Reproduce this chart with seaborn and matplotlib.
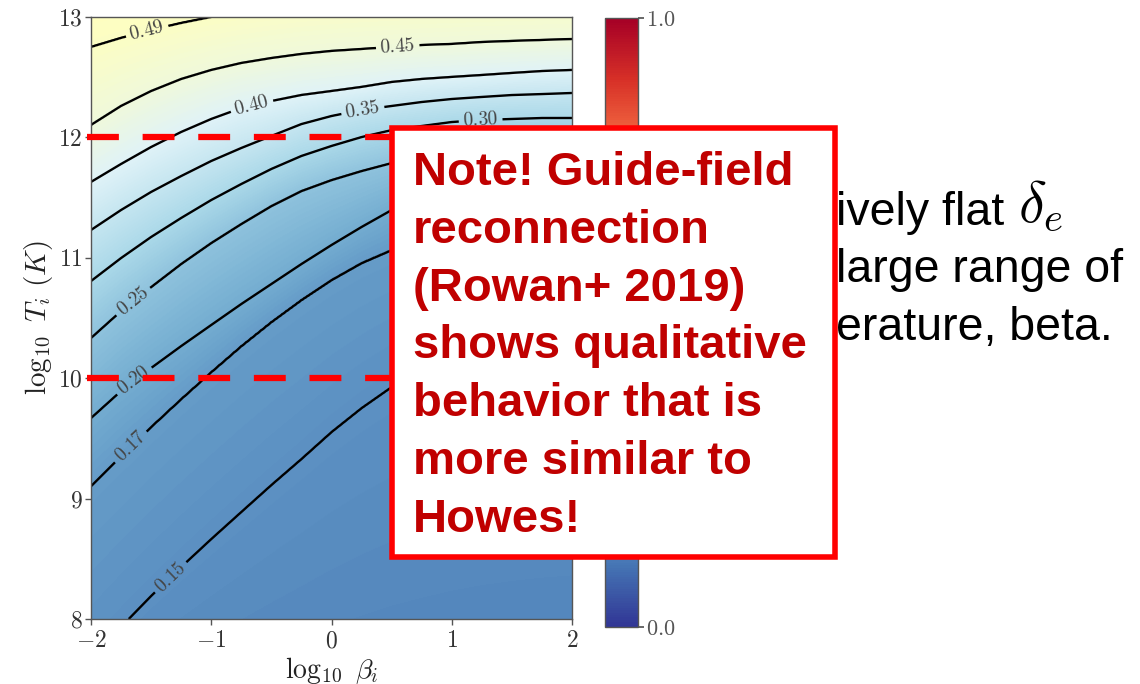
import numpy as np
import matplotlib
matplotlib.use("Agg")
import matplotlib.pyplot as plt
from matplotlib.patches import Rectangle
import seaborn as sns

# ---------------- data ----------------
# sample columns along log10 beta_i
beta_cols = [-2.0, -1.75, -1.5, -1.25, -1.0, -0.75, -0.5, -0.25, 0.0,
             0.25, 0.5, 0.75, 1.0, 1.25, 1.5, 1.75, 2.0]
contour_levels = [0.15, 0.17, 0.20, 0.25, 0.30, 0.35, 0.40, 0.45, 0.49]
# log10 T_i where each contour level sits, per beta column
T_015 = [7.659, 7.934, 8.191, 8.432, 8.664, 8.889, 9.113, 9.329, 9.553,
         9.752, 9.927, 10.068, 10.193, 10.292, 10.367, 10.425, 10.467]
T_017 = [9.105, 9.354, 9.595, 9.827, 10.051, 10.267, 10.467, 10.650, 10.816,
         10.957, 11.065, 11.164, 11.247, 11.314, 11.364, 11.405, 11.430]
T_020 = [9.669, 9.894, 10.085, 10.267, 10.442, 10.616, 10.782, 10.948, 11.106,
         11.256, 11.397, 11.513, 11.605, 11.679, 11.729, 11.762, 11.787]
T_025 = [10.334, 10.558, 10.757, 10.949, 11.123, 11.281, 11.430, 11.555, 11.646,
         11.721, 11.787, 11.846, 11.895, 11.929, 11.953, 11.970, 11.978]
T_030 = [10.807, 10.998, 11.173, 11.331, 11.480, 11.613, 11.738, 11.846, 11.929,
         12.003, 12.061, 12.095, 12.128, 12.145, 12.153, 12.161, 12.161]
T_035 = [11.231, 11.397, 11.547, 11.679, 11.804, 11.912, 12.012, 12.111, 12.178,
         12.228, 12.261, 12.294, 12.319, 12.336, 12.352, 12.360, 12.369]
T_040 = [11.630, 11.779, 11.920, 12.045, 12.153, 12.244, 12.302, 12.352, 12.385,
         12.419, 12.460, 12.485, 12.502, 12.518, 12.535, 12.551, 12.560]
T_045 = [12.103, 12.261, 12.385, 12.485, 12.560, 12.618, 12.659, 12.693, 12.718,
         12.734, 12.751, 12.767, 12.776, 12.792, 12.801, 12.809, 12.817]
T_049 = [12.751, 12.826, 12.892, 12.950, 13.000, 13.042, 13.075, 13.100, 13.116,
         13.133, 13.141, 13.150, 13.154, 13.158, 13.162, 13.166, 13.166]
# field values just outside the plotted window (for the colour shading)
edge_low_level, edge_low_T = 0.125, 6.5
edge_high_level, edge_high_T = 0.53, 14.0

# where each contour label sits (log10 beta, log10 T)
label_beta = [-1.37, -1.67, -1.65, -1.66, 1.24, 0.26, -0.66, 0.55, -1.53]
label_T = [8.38, 9.43, 9.99, 10.65, 12.145, 12.228, 12.252, 12.767, 12.875]

guide_T = [12, 10]
x_ticks = [-2, -1, 0, 1, 2]
x_ticklabels = ["$-2$", "$-1$", "$0$", "$1$", "$2$"]
y_ticks = [8, 9, 10, 11, 12, 13]
y_ticklabels = ["$8$", "$9$", "$10$", "$11$", "$12$", "$13$"]
cbar_ticks = [0.0, 1.0]
cbar_ticklabels = ["$0.0$", "$1.0$"]
xlabel = r"$\log_{10}\ \beta_i$"
ylabel = r"$\log_{10}\ T_i\ (K)$"
note_lines = ["Note! Guide-field", "reconnection", "(Rowan+ 2019)",
              "shows qualitative", "behavior that is", "more similar to",
              "Howes!"]
side_lines = ["ively flat", "large range of", "erature, beta."]
side_symbol = r"$\delta_e$"

# ---------------- style ----------------
sns.set_theme(style="white")
plt.rcParams["font.family"] = ["Liberation Sans", "DejaVu Sans"]
plt.rcParams["mathtext.fontset"] = "cm"

cmap = sns.color_palette("RdYlBu_r", as_cmap=True)

W, H = 1140, 684
fig = plt.figure(figsize=(W / 100, H / 100), dpi=100)

def fx(px):
    return px / W

def fy(py):
    return 1 - py / H

ax = fig.add_axes([fx(91), fy(619), fx(572) - fx(91), fy(17) - fy(619)])
cax = fig.add_axes([fx(605), fy(627), fx(638) - fx(605), fy(18) - fy(627)])

# ---------------- field from the read contour positions ----------------
xs = np.linspace(-2, 2, 481)
ys = np.linspace(8, 13, 601)
rows = [T_015, T_017, T_020, T_025, T_030, T_035, T_040, T_045, T_049]
lev_all = [edge_low_level] + contour_levels + [edge_high_level]
T_all = [[edge_low_T] * len(beta_cols)] + rows + [[edge_high_T] * len(beta_cols)]
T_fine = np.array([np.interp(xs, beta_cols, r) for r in T_all])
Z = np.empty((len(ys), len(xs)))
for j in range(len(xs)):
    Z[:, j] = np.interp(ys, T_fine[:, j], lev_all)

im = ax.imshow(Z, extent=[-2, 2, 8, 13], origin="lower", cmap=cmap,
               vmin=0, vmax=1, aspect="auto", interpolation="bilinear")
cs = ax.contour(xs, ys, Z, levels=contour_levels, colors="black",
                linewidths=1.7)
ax.clabel(cs, contour_levels, inline=True, fontsize=14, colors="#444444",
          fmt=lambda v: "$%.2f$" % v,
          manual=list(zip(label_beta, label_T)), inline_spacing=4)

ax.set_xlim(-2, 2)
ax.set_ylim(8, 13)
ax.set_xticks(x_ticks)
ax.set_xticklabels(x_ticklabels)
ax.set_yticks(y_ticks)
ax.set_yticklabels(y_ticklabels)
ax.tick_params(axis="both", which="major", direction="out", length=4,
               width=1, colors="#555555", labelcolor="#333333",
               labelsize=17, bottom=True, left=True)
ax.tick_params(axis="x", pad=4)
ax.tick_params(axis="y", pad=2)
ax.set_xlabel(xlabel, fontsize=20, color="#222222", labelpad=2)
ax.set_ylabel(ylabel, fontsize=21, color="#222222", labelpad=2)
for s in ax.spines.values():
    s.set_color("#555555")
    s.set_linewidth(1.0)

# red dashed guide lines
for t in guide_T:
    ax.plot([-2.035, 0.6], [t, t], color="#ff0000", linewidth=4.5,
            dashes=(5.1, 3.8), clip_on=False, zorder=5,
            solid_capstyle="butt", dash_capstyle="butt")

# colorbar
cb = fig.colorbar(im, cax=cax, ticks=cbar_ticks)
cb.ax.set_yticklabels(cbar_ticklabels)
cb.ax.tick_params(labelsize=16, labelcolor="#555555", colors="#555555",
                  length=4, pad=2)
cb.outline.set_edgecolor("#555555")
cb.outline.set_linewidth(1.0)

# side text (partly hidden by the note box)
for i, line in enumerate(side_lines):
    fig.text(fx(836), fy(225 + i * 57.5), line, fontsize=33.5, color="black",
             ha="left", va="baseline", zorder=20)
fig.text(fx(1018), fy(222), side_symbol, fontsize=42, color="black",
         ha="left", va="baseline", zorder=20)

# note box
box = Rectangle((fx(392), fy(557)), fx(835) - fx(392), fy(128) - fy(557),
                transform=fig.transFigure, facecolor="white",
                edgecolor="#ff0000", linewidth=4, zorder=30)
fig.add_artist(box)
for i, line in enumerate(note_lines):
    fig.text(fx(413), fy(185 + i * 57.8), line, fontsize=34,
             fontweight="bold", color="#c00000", ha="left", va="baseline",
             zorder=31)

fig.savefig("out.png", dpi=100)
